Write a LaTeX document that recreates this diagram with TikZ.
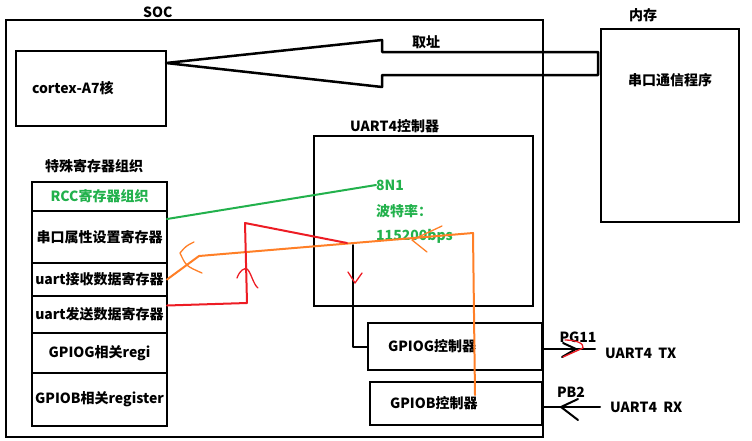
\documentclass[tikz,border=0pt]{standalone}
\usepackage{fontspec}
\setmainfont{Noto Sans CJK SC}
\usepackage{tikz}
\usetikzlibrary{positioning, calc}
\definecolor{verde}{HTML}{22B14C}
\definecolor{rosso}{HTML}{ED1C24}
\definecolor{arancio}{HTML}{FF7F27}
\tikzset{
	% blocco generico (riquadro)
	blocco/.style={draw, line width=2.5pt, rectangle, inner sep=0pt, outer sep=0pt,
	               font=\bfseries\fontsize{14}{16}\selectfont},
	% riga della pila di registri
	reg/.style={blocco, minimum width=135pt, inner xsep=1pt},
	% testo libero
	etich/.style={inner sep=0pt, font=\bfseries\fontsize{14}{16}\selectfont},
	% filo tracciato a mano
	filo/.style={line width=2pt, line join=round, line cap=round},
	% segnino di verso
	segno/.style={line width=1.3pt, line join=round, line cap=round},
}

\begin{document}
\begin{tikzpicture}[x=1pt, y=-1pt]
    \useasboundingbox (0,0) rectangle (752,440);
    \node[blocco, minimum width=537pt, minimum height=417pt] (soc) at (274.5,228.5) {};
    \node[etich, above right=2pt and 137pt of soc.north west] (soclab) {SOC};
    \node[blocco, minimum width=150pt, minimum height=75pt, text width=118pt, inner xsep=16pt, align=left] (cpu) at (91,88.5) {cortex-A7核};
    \node[blocco, minimum width=138pt, minimum height=193pt] (mem) at (670,125.5) {};
    \node[etich, above right=7pt and 28pt of mem.north west] (memlab) {内存};
    \node[etich, below=44pt of mem.north] (prog) {串口通信程序};
    \node[etich] (qz) at (426,42) {取址};
    \coordinate (tip) at (cpu.east |- 0,63);
    \draw[line width=2.5pt, line join=round] (tip) -- (382,40) -- (382,52) -- (598,52) -- (598,75) -- (382,75) -- (382,87) -- cycle;
    \node[blocco, minimum width=219pt, minimum height=170pt] (uart) at (423.5,221) {};
    \node[etich, above right=3pt and 36pt of uart.north west] (uartlab) {UART4控制器};
    \node[etich, text=verde, anchor=west] (n8n1) at (376,185) {8N1};
    \node[etich, text=verde, anchor=west] (baud) at (376,211) {波特率：};
    \node[etich, text=verde, anchor=west] (rate) at (376,236) {115200bps};
    \node[reg, minimum height=29pt, text=verde] (rcc) at (99.5,196.5) {RCC寄存器组织};
    \node[reg, minimum height=52pt, below=0pt of rcc] (attr) {串口属性设置寄存器};
    \node[reg, minimum height=33pt, below=0pt of attr] (rx) {uart接收数据寄存器};
    \node[reg, minimum height=37pt, below=0pt of rx] (tx) {uart发送数据寄存器};
    \node[reg, minimum height=40pt, below=0pt of tx] (gregs) {GPIOG相关regi};
    \node[reg, minimum height=53pt, below=0pt of gregs] (bregs) {GPIOB相关register};
    \node[etich, above right=9pt and 13pt of rcc.north west] (reglab) {特殊寄存器组织};
    \node[blocco, minimum width=174pt, minimum height=47pt, text width=134pt, inner xsep=20pt, align=left] (gpiog) at (455,346.5) {GPIOG控制器};
    \node[blocco, minimum width=172pt, minimum height=43pt, text width=132pt, inner xsep=20pt, align=left] (gpiob) at (456,403.5) {GPIOB控制器};
    \draw[filo, verde] ($(attr.north east)+(0,8)$) -- (n8n1.west);
    \draw[filo, arancio] (rx.east) -- (199,256) -- (473,233) -- (475,395);
    \draw[filo, rosso] ($(tx.east)+(0,-9)$) -- (247,303) -- (245,223) -- (347,243);
    \draw[filo] (353,245) |- (gpiog.west);
    \coordinate (txend) at (595,349);
    \draw[filo] (gpiog.east |- txend) -- (txend);
    \node[etich] (pg11) at (578,337) {PG11};
    \node[etich, right=10pt of txend, yshift=-4pt] (txlab) {UART4\ \ TX};
    \coordinate (rxend) at (600,407);
    \draw[filo] (rxend) -- (gpiob.east |- rxend);
    \node[etich] (pb2) at (571,392) {PB2};
    \node[etich, right=10pt of rxend] (rxlab) {UART4\ \ RX};
    \draw[segno, rosso] (237,278) .. controls (240,270) and (244,268) .. (247,269) .. controls (251,272) and (253,284) .. (258,288);
    \draw[segno, rosso] (348,272) -- (355,283) -- (362,273);
    \draw[segno, arancio] (194,242) .. controls (186,246) .. (180,253) .. controls (186,266) .. (202,273);
    \draw[segno, arancio] (442,226) -- (412,240) -- (427,252);
    \draw[filo] (563,343) -- (576,349) -- (562,357);
    \draw[segno, rosso] (565,340) .. controls (578,340) and (584,344) .. (583,348) -- (563,357);
    \draw[filo] (578,399) -- (561,407) -- (578,420);
\end{tikzpicture}
\end{document}
